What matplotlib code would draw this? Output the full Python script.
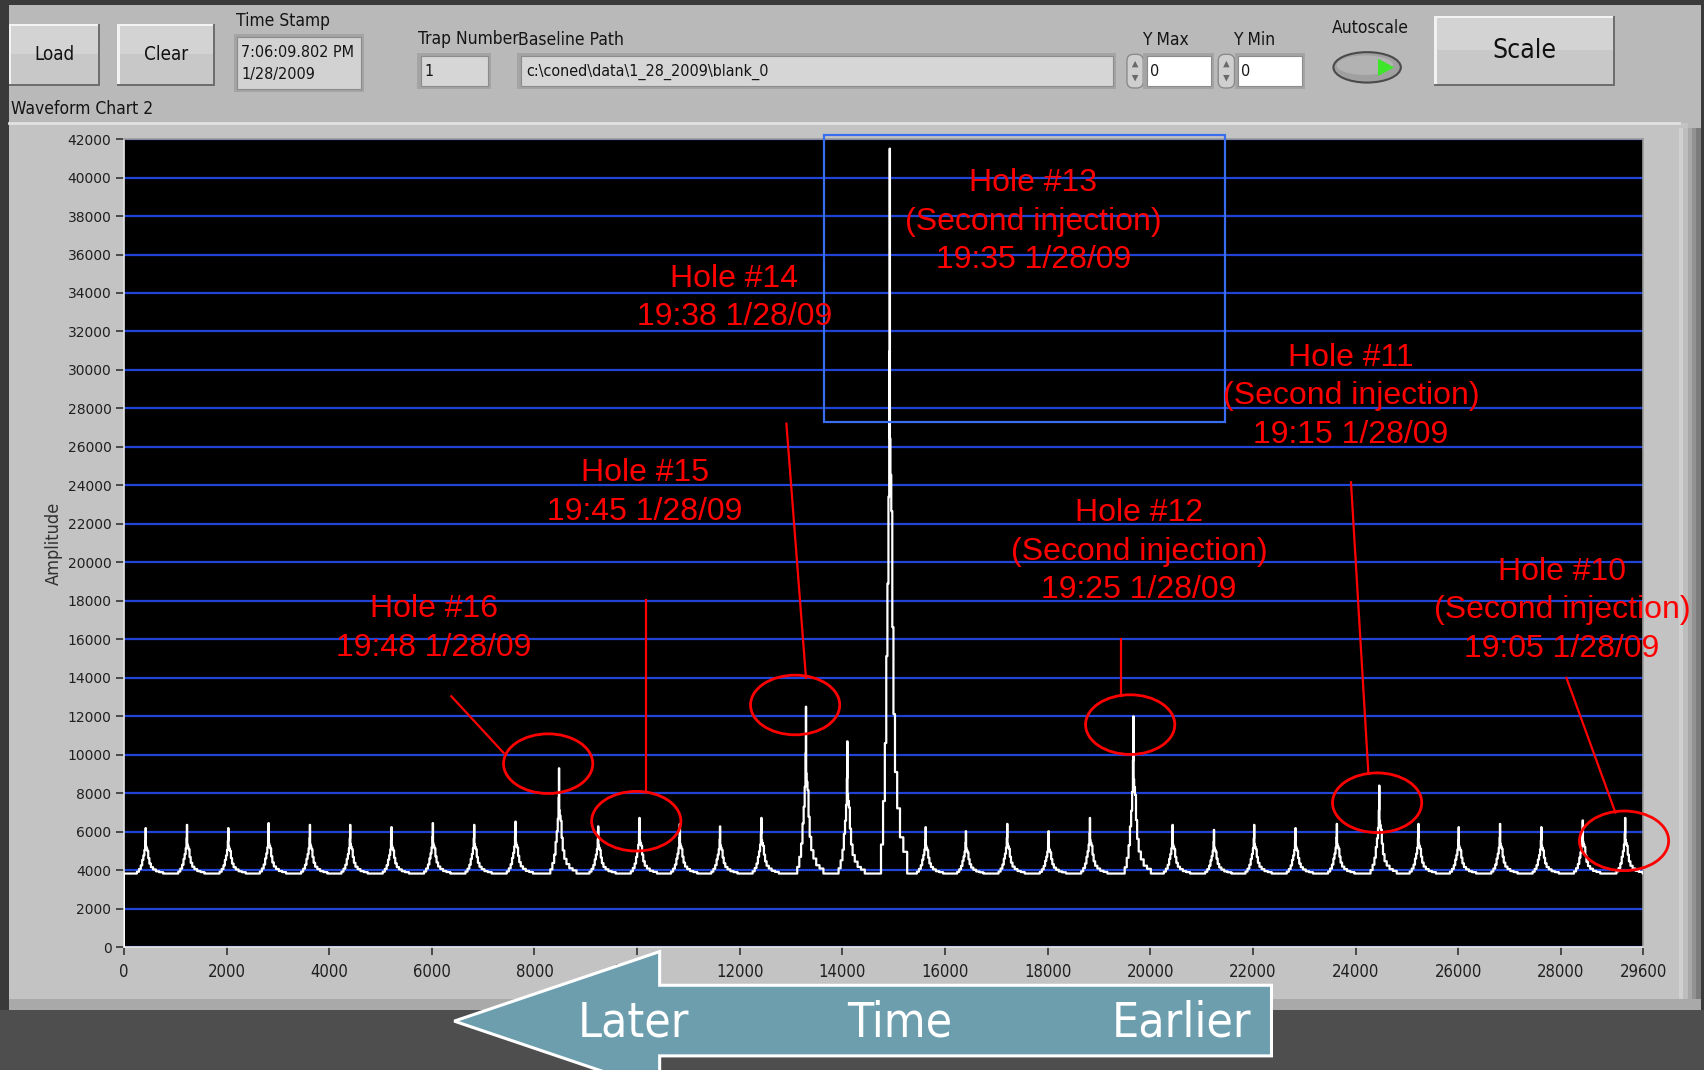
import matplotlib
matplotlib.use("Agg")
import matplotlib.pyplot as plt
from matplotlib.patches import Rectangle, Ellipse, Polygon, FancyBboxPatch
from matplotlib import font_manager
from matplotlib.font_manager import FontProperties

# ---- waveform data -------------------------------------------------------
# apex position (sample) and apex amplitude of every peak in the chart
peak_x = [424, 1229, 2035, 2819, 3624, 4409, 5214, 6019, 6825, 7630,
          8478, 9241, 10046, 10831, 11615, 12420, 13289, 14095, 14921, 15621,
          16405, 17211, 18016, 18821, 19669, 20432, 21238, 22022, 22827, 23632,
          24459, 25222, 26006, 26812, 27617, 28423, 29250]
peak_y = [6190, 6360, 6190, 6450, 6360, 6360, 6240, 6450, 6360, 6530,
          9300, 6280, 6720, 6400, 6280, 6720, 12500, 10700, 41500, 6240,
          6030, 6410, 6030, 6720, 12000, 6360, 6100, 6360, 6190, 6410,
          8400, 6410, 6240, 6410, 6240, 6590, 6720]
baseline = 3830

# profile of a single peak: offset from apex and fraction of apex height
shape_dx = [-190, -150, -110, -80, -55, -35, -15, -5, 0, 8, 20, 40, 60, 85, 120, 170, 230, 300, 380]
shape_rel = [0.0, 0.04, 0.1, 0.18, 0.3, 0.4, 0.52, 0.72, 1.0, 0.6, 0.55, 0.5, 0.34, 0.22, 0.14,
             0.09, 0.05, 0.03, 0.0]

y_ticks = list(range(0, 42001, 2000))
x_ticks = [0, 2000, 4000, 6000, 8000, 10000, 12000, 14000, 16000, 18000, 20000,
           22000, 24000, 26000, 28000, 29600]

hole_text = ["Hole #16\n19:48 1/28/09",
             "Hole #15\n19:45 1/28/09",
             "Hole #14\n19:38 1/28/09",
             "Hole #13\n(Second injection)\n19:35 1/28/09",
             "Hole #12\n(Second injection)\n19:25 1/28/09",
             "Hole #11\n(Second injection)\n19:15 1/28/09",
             "Hole #10\n(Second injection)\n19:05 1/28/09"]

# where each note sits (text centre), its ellipse centre and its leader line
text_pos = [(6041, 16570), (10153, 23620), (11891, 33730), (17719, 37700),
            (19775, 20550), (23908, 28640), (28020, 17520)]
ring_pos = [(8266, 9540), (9983, 6550), (13078, 12590), None,
            (19606, 11570), (24417, 7510), (29228, 5530)]
leaders = [((6380, 13040), (7397, 10104)), ((10174, 18064), (10174, 8072)),
           ((12908, 27209), (13289, 14000)), None,
           ((19436, 16032), (19436, 13040)), ((23908, 24161), (24247, 9032)),
           ((28105, 14000), (29059, 7000))]

# ---- fonts ---------------------------------------------------------------
# the front panel uses a narrow sans; take a condensed face if one is installed
narrow_file = None
for f in font_manager.fontManager.ttflist:
    if f.style != "normal" or f.weight not in (400, "normal", "regular"):
        continue
    if "Narrow" in f.name or "Condensed" in f.name or f.stretch in ("condensed", "semi-condensed"):
        if narrow_file is None or f.name.startswith("Liberation"):
            narrow_file = f.fname
nscale = 1.0 if narrow_file else 0.85
arial = ["Liberation Sans", "DejaVu Sans"]


def ntext(axes, x, y, s, size, **kw):
    t = axes.text(x, y, s, **kw)
    if narrow_file:
        t.set_fontproperties(FontProperties(fname=narrow_file, size=size))
    else:
        t.set_family("Liberation Sans")
        t.set_fontsize(size * nscale)
    return t


W, H = 1568, 985
fig = plt.figure(figsize=(17.04, 10.70), dpi=100, facecolor="#3a3a3a")

# ---- panel background (pixel coordinates) --------------------------------
bg = fig.add_axes([0, 0, 1, 1], zorder=0)
bg.set_xlim(0, W)
bg.set_ylim(H, 0)
bg.axis("off")

bg.add_patch(Rectangle((0, 930), W, 60, fc="#4e4e4e", ec="none"))
bg.add_patch(Rectangle((8, 5), 1557, 925, fc="#b9b9b9", ec="none"))
bg.add_patch(Rectangle((8, 113), 1545, 815, fc="#c3c3c3", ec="none"))
bg.plot([8, 1545], [113, 113], color="#e2e2e2", lw=2)
for i, c in enumerate(["#d0d0d0", "#bdbdbd", "#a8a8a8", "#929292", "#7c7c7c"]):
    bg.add_patch(Rectangle((1545 + i * 4, 118), 4, 808, fc=c, ec="none"))
bg.add_patch(Rectangle((8, 920), 1557, 10, fc="#a9a9a9", ec="none"))


def button(x0, y0, x1, y1, label, size):
    bg.add_patch(Rectangle((x0, y0), x1 - x0, y1 - y0, fc="#6e6e6e", ec="none"))
    bg.add_patch(Rectangle((x0, y0), x1 - x0 - 2, y1 - y0 - 2, fc="#f2f2f2", ec="none"))
    bg.add_patch(Rectangle((x0 + 2, y0 + 2), x1 - x0 - 4, y1 - y0 - 4, fc="#c8c8c8", ec="none"))
    bg.add_patch(Rectangle((x0 + 2, y0 + 2), x1 - x0 - 4, (y1 - y0) * 0.45, fc="#d3d3d3", ec="none"))
    ntext(bg, (x0 + x1) / 2, (y0 + y1) / 2, label, size, ha="center", va="center", color="#111111")


def field(x0, y0, x1, y1, fc):
    bg.add_patch(Rectangle((x0, y0), x1 - x0, y1 - y0, fc="#a4a4a4", ec="none"))
    bg.add_patch(Rectangle((x0 + 3, y0 + 3), x1 - x0 - 6, y1 - y0 - 6, fc=fc, ec="#8c8c8c", lw=0.8))


def spinner(x0, y0, x1, y1):
    bg.add_patch(FancyBboxPatch((x0, y0), x1 - x0, y1 - y0, boxstyle="round,pad=0,rounding_size=6",
                                fc="#cfcfcf", ec="#8a8a8a", lw=1))
    xm = (x0 + x1) / 2
    bg.add_patch(Polygon([(xm - 3, y0 + 12), (xm + 3, y0 + 12), (xm, y0 + 6)], fc="#6a6a6a", ec="none"))
    bg.add_patch(Polygon([(xm - 3, y1 - 12), (xm + 3, y1 - 12), (xm, y1 - 6)], fc="#6a6a6a", ec="none"))


def label(x, y, s, ha="left", size=12.5):
    ntext(bg, x, y, s, size, ha=ha, va="center", color="#151515")


button(8, 22, 92, 79, "Load", 13.5)
button(108, 22, 198, 79, "Clear", 13.5)
button(1320, 15, 1486, 79, "Scale", 19)

label(217, 19, "Time Stamp")
field(215, 31, 335, 85, "#d2d2d2")
label(222, 48, "7:06:09.802 PM", size=11.5)
label(222, 69, "1/28/2009", size=11.5)

label(385, 36, "Trap Number")
label(477, 37, "Baseline Path")
field(384, 49, 452, 82, "#d6d6d6")
label(391, 66, "1", size=11.5)
field(476, 49, 1027, 82, "#d6d6d6")
label(484, 66, "c:\\coned\\data\\1_28_2009\\blank_0", size=11.5)

label(1072, 37, "Y Max", ha="center")
spinner(1037, 50, 1052, 81)
field(1052, 49, 1117, 82, "#ffffff")
label(1058, 66, "0", size=11.5)
label(1154, 37, "Y Min", ha="center")
spinner(1121, 50, 1136, 81)
field(1136, 49, 1201, 82, "#ffffff")
label(1142, 66, "0", size=11.5)

label(1261, 26, "Autoscale", ha="center")
bg.add_patch(Ellipse((1258, 62), 62, 28, fc="#a0a0a0", ec="#4a4a4a", lw=1.5))
bg.add_patch(Ellipse((1256, 60), 52, 18, fc="#b2b2b2", ec="none"))
bg.add_patch(Polygon([(1268, 54), (1268, 70), (1283, 62)], fc="#3ee62a", ec="none"))

label(10, 100, "Waveform Chart 2")
ntext(bg, 50, 500, "Amplitude", 13, rotation=90, ha="center", va="center", color="#303030")

# ---- waveform chart ------------------------------------------------------
ax = fig.add_axes([114 / W, (H - 872) / H, (1512 - 114) / W, (872 - 128) / H], zorder=1)
ax.set_facecolor("black")

xs = [0, 0]
ys = [0, baseline]
for px, py in zip(peak_x, peak_y):
    for dx, r in zip(shape_dx, shape_rel):
        xs.append(px + dx)
        ys.append(baseline + r * (py - baseline))
ax.plot(xs, ys, color="white", lw=1.6, drawstyle="steps-mid", zorder=3)

ax.set_xlim(0, 29600)
ax.set_ylim(0, 42000)
ax.set_yticks(y_ticks)
ax.set_xticks(x_ticks)
ax.set_yticklabels([str(v) for v in y_ticks])
ax.set_xticklabels([str(v) for v in x_ticks])
ax.yaxis.grid(True, color="#1f44d6", lw=1.6, zorder=1)
ax.set_axisbelow(True)
ax.tick_params(axis="y", direction="out", length=6, width=1.2, color="#333333",
               labelcolor="#202020", labelsize=10, pad=3)
ax.tick_params(axis="x", direction="out", length=6, width=1.2, color="#333333",
               labelcolor="#202020", labelsize=12 * nscale, pad=5)
if narrow_file:
    for t in ax.get_xticklabels():
        t.set_fontproperties(FontProperties(fname=narrow_file, size=12))
for s in ax.spines.values():
    s.set_color("#9a9a9a")
    s.set_linewidth(1.2)
ax.spines["left"].set_color("#e6e6e6")
ax.spines["bottom"].set_color("#e6e6e6")

# notes on the holes
for txt, tp, rp, ld in zip(hole_text, text_pos, ring_pos, leaders):
    ax.text(tp[0], tp[1], txt, ha="center", va="center", color="red", fontsize=23,
            family=arial, linespacing=1.37, clip_on=False, zorder=6)
    if rp is not None:
        ax.add_patch(Ellipse(rp, 1738, 3100, fill=False, ec="red", lw=2, clip_on=False, zorder=6))
    if ld is not None:
        ax.plot([ld[0][0], ld[1][0]], [ld[0][1], ld[1][1]], color="red", lw=1.6, zorder=6)

# box round the tallest peak
ax.add_patch(Rectangle((13650, 27320), 21450 - 13650, 42230 - 27320, fill=False,
                       ec="#3a6cf0", lw=1.6, clip_on=False, zorder=5))

# ---- time direction arrow ------------------------------------------------
fg = fig.add_axes([0, 0, 1, 1], zorder=2)
fg.set_xlim(0, W)
fg.set_ylim(H, 0)
fg.axis("off")
fg.patch.set_alpha(0)
fg.add_patch(Polygon([(418, 940), (607, 876), (607, 907), (1170, 907), (1170, 972),
                      (607, 972), (607, 1004)], closed=True, fc="#6c9eae", ec="white", lw=2.2))
for x, word in [(583, "Later"), (828, "Time"), (1087, "Earlier")]:
    ntext(fg, x, 942, word, 34.5 if narrow_file else 40, ha="center", va="center", color="white")

fig.savefig("out.png", dpi=100, facecolor=fig.get_facecolor())
